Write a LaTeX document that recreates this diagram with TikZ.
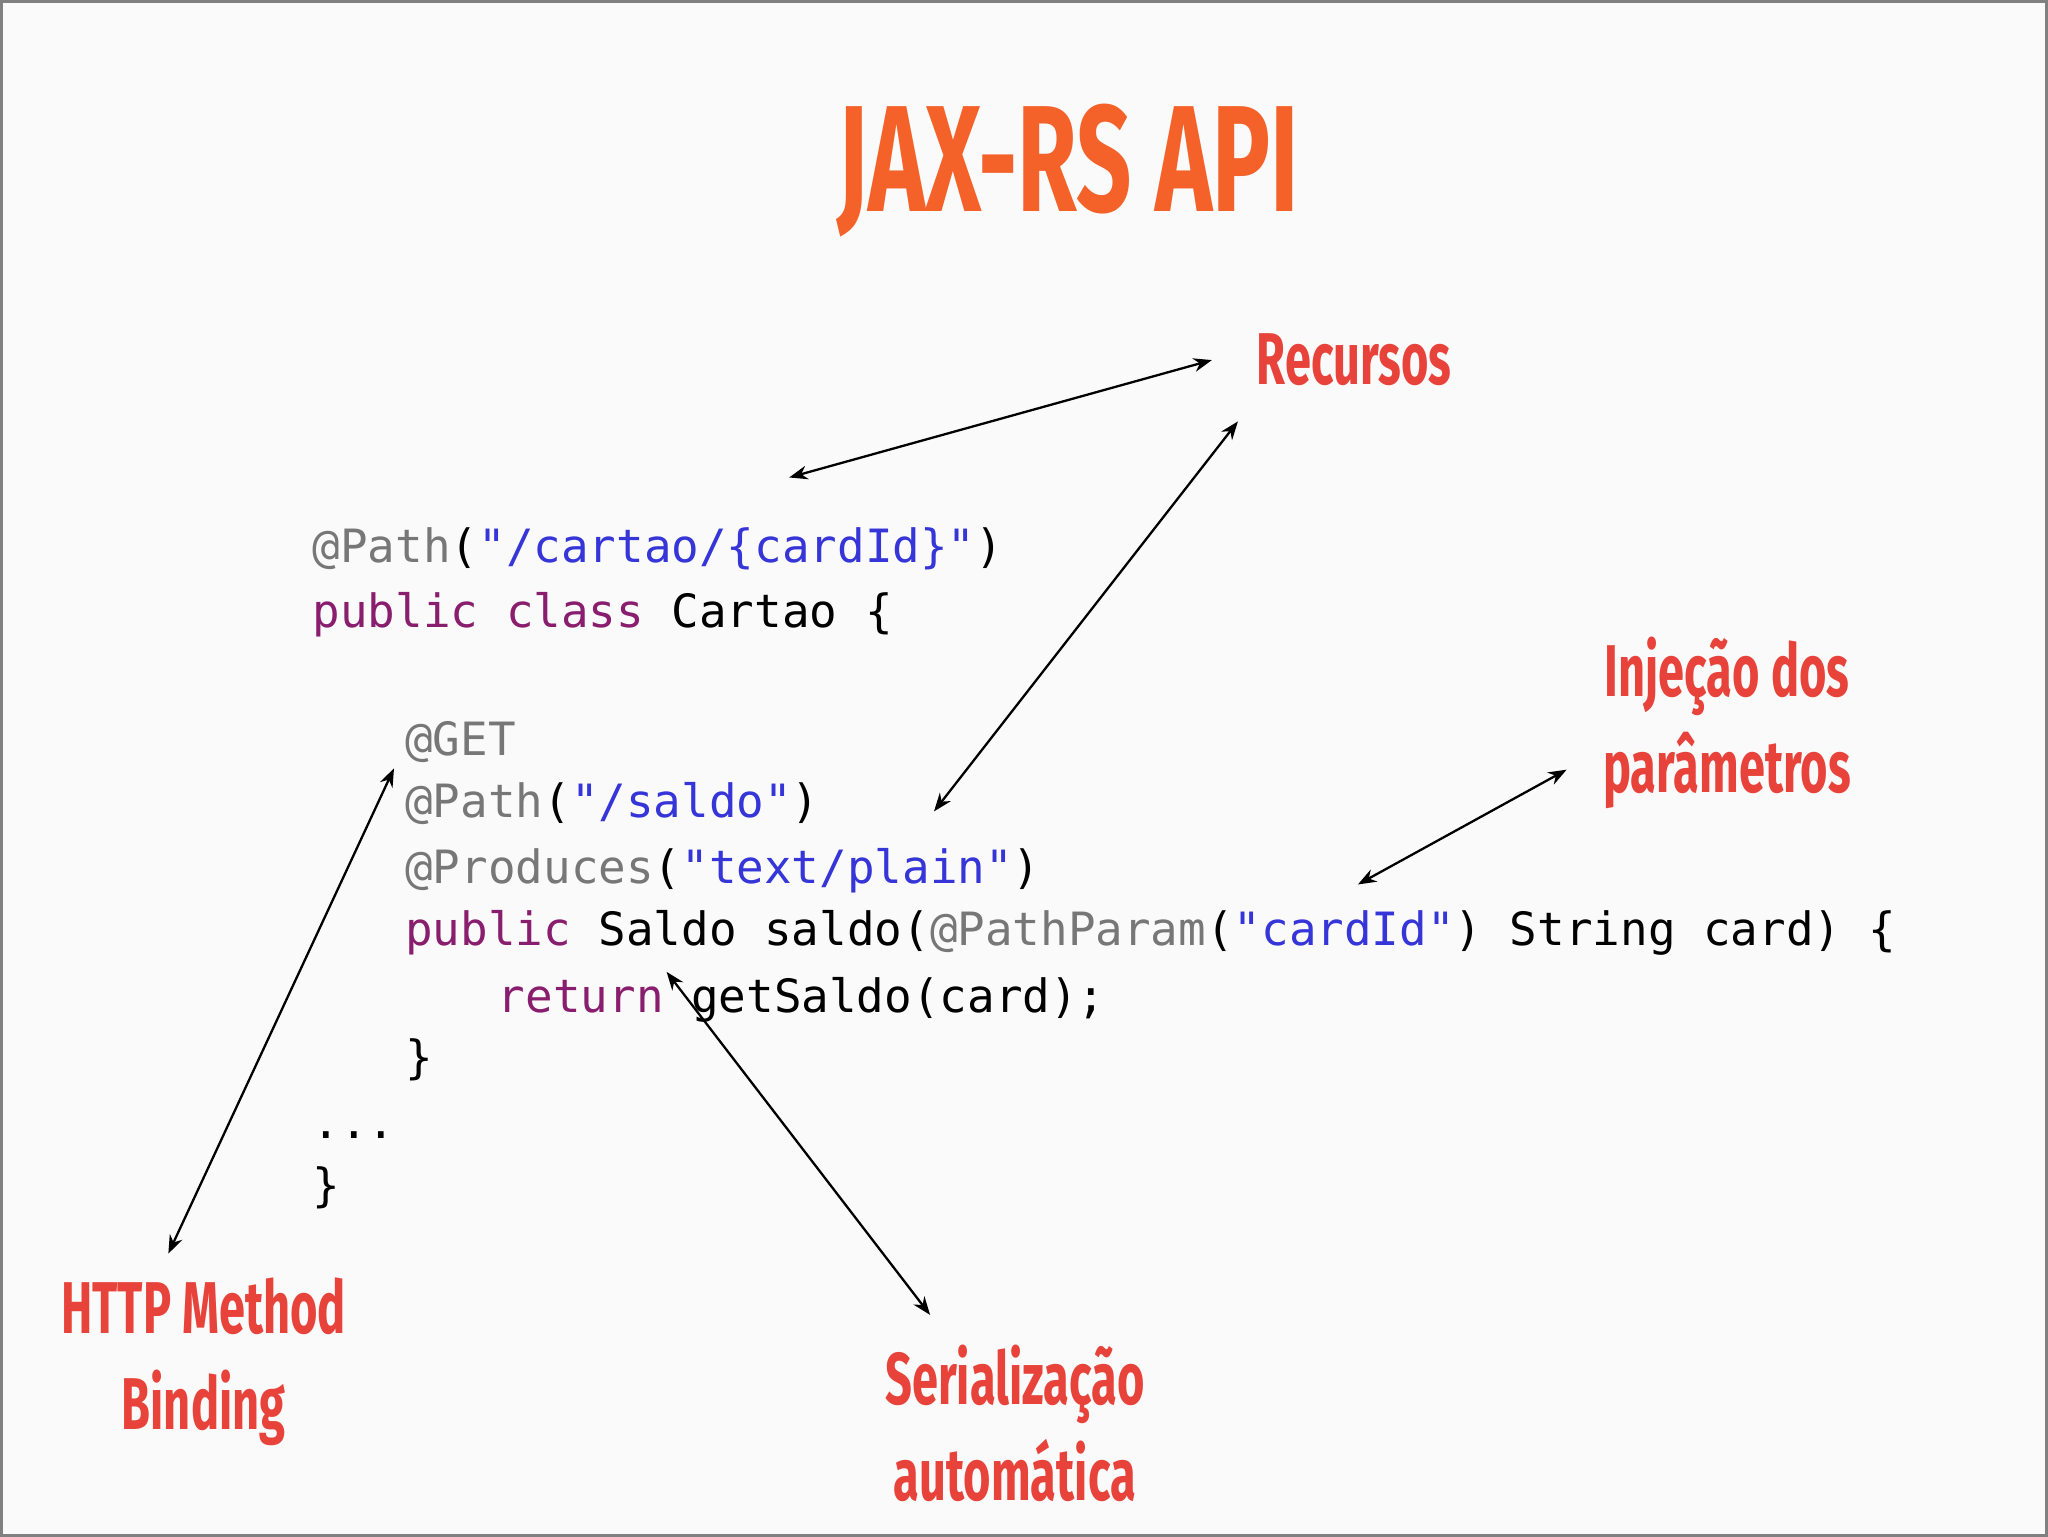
\documentclass[tikz,border=0pt]{standalone}
\usepackage{fontspec}
\setmonofont{DejaVu Sans Mono}
\newfontfamily\cond[FakeStretch=0.64]{Fira Sans}
\usetikzlibrary{arrows.meta}
\definecolor{ttl}{HTML}{F4622A}
\definecolor{lbl}{HTML}{E8433A}
\definecolor{cg}{HTML}{777777}
\definecolor{cb}{HTML}{3535D8}
\definecolor{cp}{HTML}{8A1E6E}
\newcommand{\G}[1]{\textcolor{cg}{#1}}
\newcommand{\B}[1]{\textcolor{cb}{#1}}
\newcommand{\PP}[1]{\textcolor{cp}{#1}}
\begin{document}
\begin{tikzpicture}[x=0.01cm,y=-0.01cm,
  code/.style={anchor=base west,inner sep=0,font=\fontsize{10}{12}\ttfamily},
  lab/.style={align=center,text=lbl,font=\cond\bfseries\fontsize{16}{19}\selectfont},
  arr/.style={{Stealth[length=4pt,width=3pt]}-{Stealth[length=4pt,width=3pt]},line width=0.5pt}]
\fill[white!98!black,draw=gray,line width=0.6pt] (0,0) rectangle (1568,1176);
\node[text=ttl,font=\cond\bfseries\fontsize{33}{38}\selectfont] (title) at (818,130) {JAX-RS API};
\node[code] (l1) at (238,430) {\G{@Path}(\B{"/cartao/\{cardId\}"})};
\node[code] (l2) at (238,480) {\PP{public class} Cartao \{};
\node[code] (l3) at (309,578) {\G{@GET}};
\node[code] (l4) at (309,626) {\G{@Path}(\B{"/saldo"})};
\node[code] (l5) at (309,676) {\G{@Produces}(\B{"text/plain"})};
\node[code] (l6) at (309,724) {\PP{public} Saldo saldo(\G{@PathParam}(\B{"cardId"}) String card) \{};
\node[code] (l7) at (380,775) {\PP{return} getSaldo(card);};
\node[code] (l8) at (309,822) {\}};
\node[code] (l9) at (238,872) {...};
\node[code] (l10) at (238,920) {\}};
\node[lab] (rec) at (1037,275) {Recursos};
\node[lab] (inj) at (1323,553) {Injeção dos\\[2pt]parâmetros};
\node[lab] (http) at (155,1043) {HTTP Method\\[2pt]Binding};
\node[lab] (ser) at (777,1090) {Serialização\\[2pt]automática};
\coordinate (a1) at (604,365); \coordinate (b1) at (928,275);
\coordinate (a2) at (715,621); \coordinate (b2) at (948,322);
\coordinate (a3) at (128,960); \coordinate (b3) at (301,588);
\coordinate (a4) at (1040,677); \coordinate (b4) at (1200,589);
\coordinate (a5) at (510,744); \coordinate (b5) at (712,1007);
\foreach \i in {1,...,5}{\draw[arr] (a\i) -- (b\i);}
\end{tikzpicture}
\end{document}
